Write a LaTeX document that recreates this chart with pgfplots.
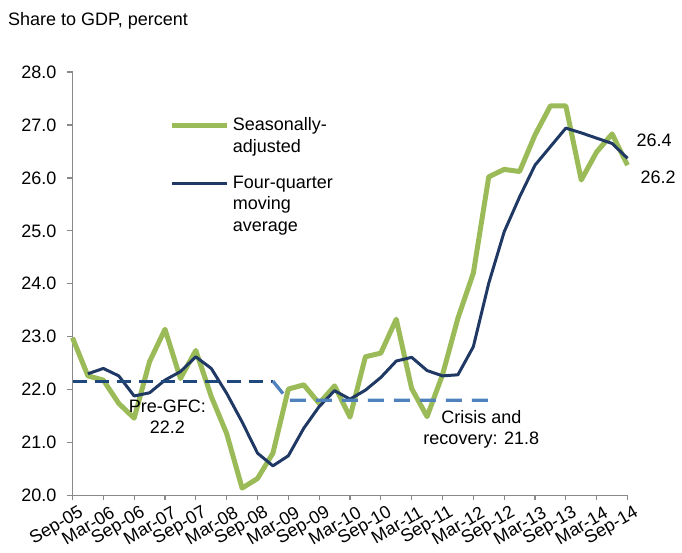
\documentclass[border=0pt]{standalone}
\usepackage{fontspec}
\setmainfont{Liberation Sans}
\usepackage{pgfplots}
\pgfplotsset{compat=1.18}
\definecolor{sagreen}{HTML}{9BBB59}
\definecolor{mablue}{HTML}{1F3864}
\definecolor{predash}{HTML}{1F497D}
\definecolor{crisdash}{HTML}{4F81BD}
\definecolor{axgray}{HTML}{898989}
\pgfplotsset{
  legtwo/.style={legend image code/.code={\draw[##1] (0pt,10.85pt) -- (55pt,10.85pt);}},
  legthree/.style={legend image code/.code={\draw[##1] (0pt,21.7pt) -- (55pt,21.7pt);}},
}
\begin{document}
\fontsize{18}{21.7}\selectfont
\begin{tikzpicture}
\useasboundingbox (0,0) rectangle (682pt,553pt);
\begin{axis}[
  at={(72.5pt,57.5pt)}, anchor=south west,
  scale only axis, width=555pt, height=423.5pt,
  xmin=0, xmax=36, ymin=20, ymax=28,
  axis x line=bottom, axis y line=left,
  x axis line style={-}, y axis line style={-},
  axis line style={draw=axgray, line width=1.3pt},
  every tick/.style={draw=axgray, line width=1.3pt},
  tick align=outside, major tick length=5pt,
  xtick={0,2,...,36},
  xticklabels={Sep-05,Mar-06,Sep-06,Mar-07,Sep-07,Mar-08,Sep-08,Mar-09,Sep-09,Mar-10,Sep-10,Mar-11,Sep-11,Mar-12,Sep-12,Mar-13,Sep-13,Mar-14,Sep-14},
  ytick={20,21,...,28},
  /pgf/number format/assume math mode=true,
  y tick label style={/pgf/number format/fixed, /pgf/number format/fixed zerofill, /pgf/number format/precision=1, inner sep=0pt, xshift=-11pt},
  ticklabel style={font=\fontsize{18}{21.7}\selectfont},
  xticklabel style={rotate=30, anchor=east, inner sep=0pt, yshift=-14pt, xshift=3pt},
  clip=false,
  legend cell align=left,
  legend style={draw=none, fill=none, at={(axis cs:6.27,27.14)}, anchor=north west,
    inner sep=0pt, row sep=20.6pt, column sep=3.5pt,
    font=\fontsize{18}{21.7}\selectfont,
    nodes={inner sep=0pt, align=left}},
]
\addplot[sagreen, line width=5pt, line join=round, legtwo] coordinates {
(0,22.98)(1,22.26)(2,22.18)(3,21.74)(4,21.46)(5,22.53)(6,23.14)(7,22.21)(8,22.74)(9,21.87)
(10,21.17)(11,20.14)(12,20.32)(13,20.80)(14,22.01)(15,22.09)(16,21.74)(17,22.07)(18,21.48)(19,22.62)
(20,22.69)(21,23.33)(22,22.02)(23,21.49)(24,22.28)(25,23.35)(26,24.20)(27,26.02)(28,26.16)(29,26.12)
(30,26.81)(31,27.36)(32,27.36)(33,25.96)(34,26.49)(35,26.83)(36,26.24)};
\addlegendentry{Seasonally-\\adjusted}
\addplot[mablue, line width=3pt, line join=round, legthree] coordinates {
(1,22.30)(2,22.40)(3,22.26)(4,21.88)(5,21.94)(6,22.18)(7,22.34)(8,22.62)(9,22.40)
(10,21.93)(11,21.39)(12,20.80)(13,20.56)(14,20.75)(15,21.27)(16,21.68)(17,21.98)(18,21.82)(19,21.99)
(20,22.23)(21,22.54)(22,22.61)(23,22.36)(24,22.26)(25,22.28)(26,22.81)(27,24.01)(28,24.98)(29,25.64)
(30,26.24)(31,26.59)(32,26.94)(33,26.85)(34,26.75)(35,26.65)(36,26.37)};
\addlegendentry{Four-quarter\\moving\\average}
\addplot[predash, line width=3.3pt, dash pattern=on 14pt off 8pt, forget plot] coordinates {(0,22.16)(13,22.16)};
\addplot[crisdash, line width=3.3pt, dash pattern=on 16pt off 10pt, forget plot] coordinates {(13,22.16)(14,21.80)(27,21.80)};
\node[align=center, font=\fontsize{18}{21}\selectfont] at (axis cs:6.155,21.48) {Pre-GFC:\\22.2};
\node[align=center, font=\fontsize{18}{21}\selectfont] at (axis cs:26.52,21.256) {Crisis and\\recovery: 21.8};
\node[font=\fontsize{18}{21}\selectfont] at (axis cs:37.72,26.715) {26.4};
\node[font=\fontsize{18}{21}\selectfont] at (axis cs:37.98,26.02) {26.2};
\end{axis}
\node[anchor=base west, inner sep=0pt] at (8pt,527pt) {Share to GDP, percent};
\end{tikzpicture}
\end{document}
